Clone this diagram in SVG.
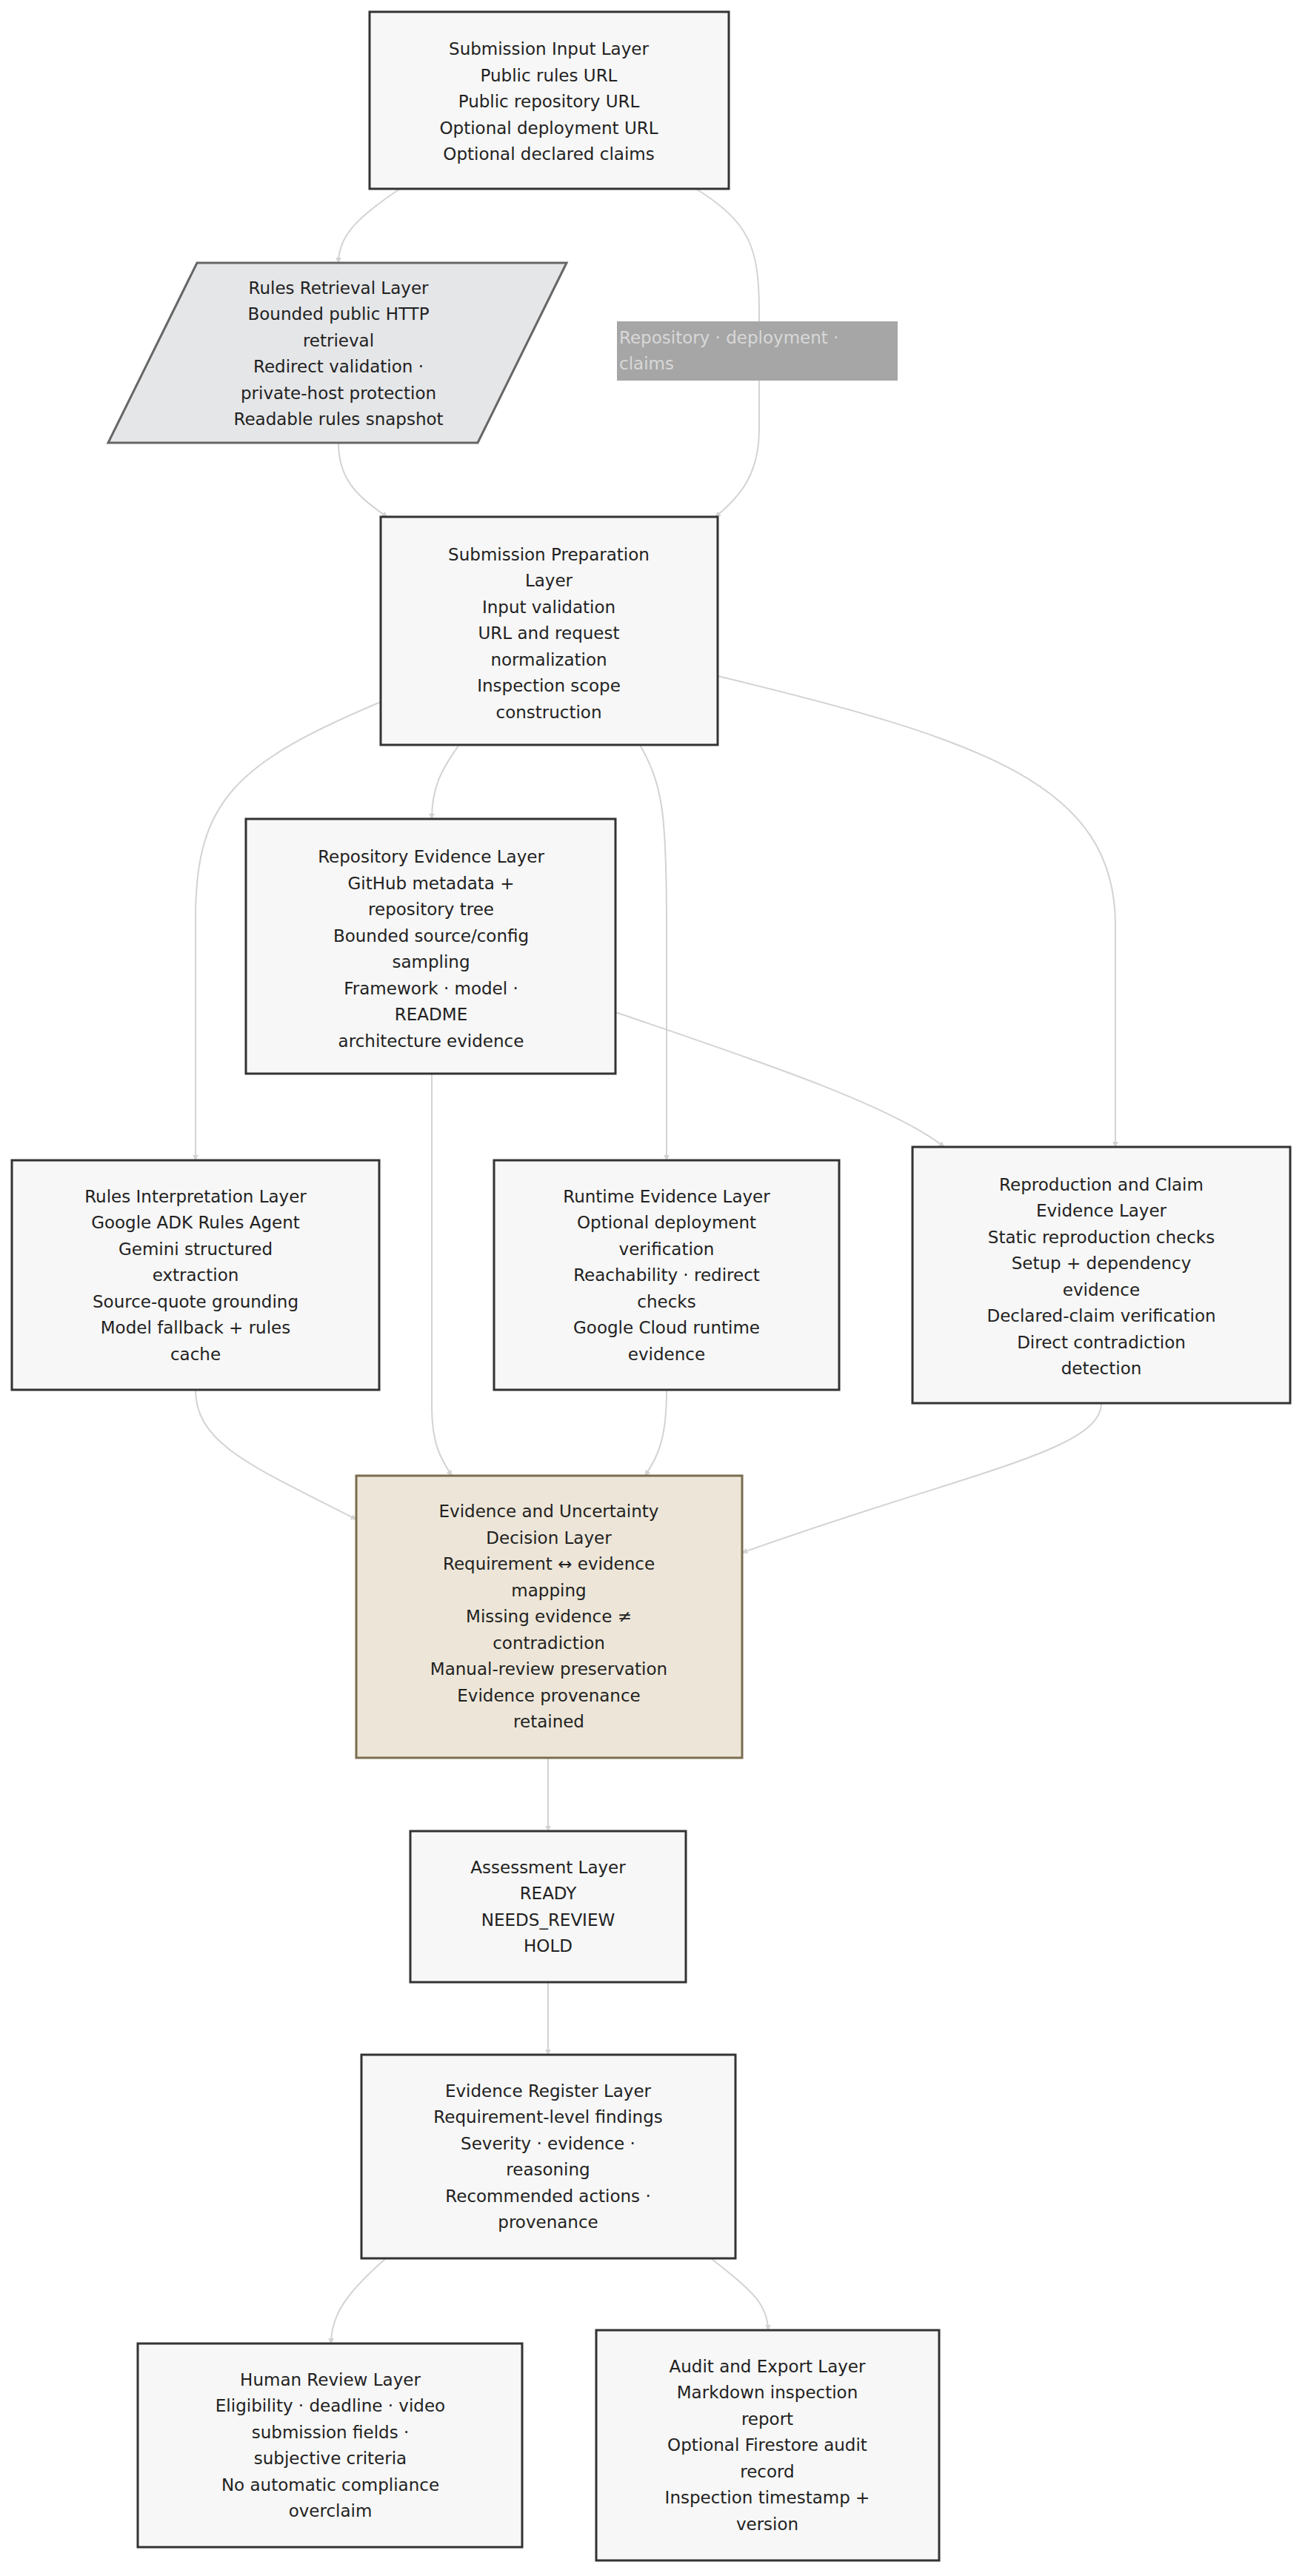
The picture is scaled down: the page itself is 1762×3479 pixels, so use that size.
<svg xmlns="http://www.w3.org/2000/svg" width="1762" height="3479" viewBox="0 0 1762 3479">
<style>
.n{fill:#f7f7f7;stroke:#333;stroke-width:3}
.t{font-family:"DejaVu Sans",sans-serif;font-size:23px;fill:#222;text-anchor:middle;dominant-baseline:central}
.e{fill:none;stroke:#d3d3d3;stroke-width:2}
.lt{font-family:"DejaVu Sans",sans-serif;font-size:23px;fill:#d8d8d8;dominant-baseline:central}
</style>
<defs><marker id="a" viewBox="0 0 10 10" refX="9" refY="5" markerWidth="8" markerHeight="8" markerUnits="userSpaceOnUse" orient="auto"><path d="M0,0L10,5L0,10z" fill="#d3d3d3"/></marker></defs>
<rect width="1762" height="3479" fill="#fff"/>
<g id="connectors">
<path class="e" marker-end="url(#a)" d="M540,255C480,295 457,320 457,355"/>
<path class="e" marker-end="url(#a)" d="M940,255C1010,300 1025,330 1025,420L1025,580C1025,640 1000,670 966,698"/>
<path class="e" marker-end="url(#a)" d="M457,598C457,645 480,670 523,698"/>
<path class="e" marker-end="url(#a)" d="M514,948C320,1030 264,1080 264,1240L264,1567"/>
<path class="e" marker-end="url(#a)" d="M620,1006C595,1040 583,1065 583,1106"/>
<path class="e" marker-end="url(#a)" d="M864,1006C895,1060 900,1100 900,1250L900,1567"/>
<path class="e" marker-end="url(#a)" d="M969,913C1330,1000 1506,1060 1506,1250L1506,1549"/>
<path class="e" marker-end="url(#a)" d="M831,1367C1000,1425 1200,1490 1275,1549"/>
<path class="e" marker-end="url(#a)" d="M583,1450L583,1900C583,1950 595,1970 610,1993"/>
<path class="e" marker-end="url(#a)" d="M264,1877C264,1950 340,1980 481,2052"/>
<path class="e" marker-end="url(#a)" d="M900,1877C900,1940 890,1965 871,1993"/>
<path class="e" marker-end="url(#a)" d="M1487,1895C1487,1960 1300,1990 1002,2097"/>
<path class="e" marker-end="url(#a)" d="M740,2374L740,2473"/>
<path class="e" marker-end="url(#a)" d="M740,2677L740,2775"/>
<path class="e" marker-end="url(#a)" d="M521,3050C470,3095 447,3125 447,3165"/>
<path class="e" marker-end="url(#a)" d="M960,3050C1010,3090 1037,3110 1037,3147"/>
<rect x="833" y="434" width="379" height="80" fill="#a6a6a6"/>
<text class="lt" x="836" y="456">Repository · deployment ·</text>
<text class="lt" x="836" y="491">claims</text>
</g>
<g id="input"><rect class="n" x="499" y="16" width="485" height="239"/>
<text class="t" x="741" y="66">Submission Input Layer</text><text class="t" x="741" y="102">Public rules URL</text><text class="t" x="741" y="137">Public repository URL</text><text class="t" x="741" y="173">Optional deployment URL</text><text class="t" x="741" y="208">Optional declared claims</text></g>
<g id="rules"><path d="M266,355L765,355L645,598L146,598Z" fill="#e5e6e8" stroke="#666" stroke-width="3"/>
<text class="t" x="457" y="389">Rules Retrieval Layer</text><text class="t" x="457" y="424">Bounded public HTTP</text><text class="t" x="457" y="460">retrieval</text><text class="t" x="457" y="495">Redirect validation ·</text><text class="t" x="457" y="531">private-host protection</text><text class="t" x="457" y="566">Readable rules snapshot</text></g>
<g id="prep"><rect class="n" x="514" y="698" width="455" height="308"/>
<text class="t" x="741" y="749">Submission Preparation</text><text class="t" x="741" y="784">Layer</text><text class="t" x="741" y="820">Input validation</text><text class="t" x="741" y="855">URL and request</text><text class="t" x="741" y="891">normalization</text><text class="t" x="741" y="926">Inspection scope</text><text class="t" x="741" y="962">construction</text></g>
<g id="repo"><rect class="n" x="332" y="1106" width="499" height="344"/>
<text class="t" x="582" y="1157">Repository Evidence Layer</text><text class="t" x="582" y="1193">GitHub metadata +</text><text class="t" x="582" y="1228">repository tree</text><text class="t" x="582" y="1264">Bounded source/config</text><text class="t" x="582" y="1299">sampling</text><text class="t" x="582" y="1335">Framework · model ·</text><text class="t" x="582" y="1370">README</text><text class="t" x="582" y="1406">architecture evidence</text></g>
<g id="interp"><rect class="n" x="16" y="1567" width="496" height="310"/>
<text class="t" x="264" y="1616">Rules Interpretation Layer</text><text class="t" x="264" y="1651">Google ADK Rules Agent</text><text class="t" x="264" y="1687">Gemini structured</text><text class="t" x="264" y="1722">extraction</text><text class="t" x="264" y="1758">Source-quote grounding</text><text class="t" x="264" y="1793">Model fallback + rules</text><text class="t" x="264" y="1829">cache</text></g>
<g id="runtime"><rect class="n" x="667" y="1567" width="466" height="310"/>
<text class="t" x="900" y="1616">Runtime Evidence Layer</text><text class="t" x="900" y="1651">Optional deployment</text><text class="t" x="900" y="1687">verification</text><text class="t" x="900" y="1722">Reachability · redirect</text><text class="t" x="900" y="1758">checks</text><text class="t" x="900" y="1793">Google Cloud runtime</text><text class="t" x="900" y="1829">evidence</text></g>
<g id="repro"><rect class="n" x="1232" y="1549" width="510" height="346"/>
<text class="t" x="1487" y="1600">Reproduction and Claim</text><text class="t" x="1487" y="1635">Evidence Layer</text><text class="t" x="1487" y="1671">Static reproduction checks</text><text class="t" x="1487" y="1706">Setup + dependency</text><text class="t" x="1487" y="1742">evidence</text><text class="t" x="1487" y="1777">Declared-claim verification</text><text class="t" x="1487" y="1813">Direct contradiction</text><text class="t" x="1487" y="1848">detection</text></g>
<g id="evidence"><rect x="481" y="1993" width="521" height="381" fill="#ede6d8" stroke="#7a6d4f" stroke-width="3"/>
<text class="t" x="741" y="2041">Evidence and Uncertainty</text><text class="t" x="741" y="2077">Decision Layer</text><text class="t" x="741" y="2112">Requirement ↔ evidence</text><text class="t" x="741" y="2148">mapping</text><text class="t" x="741" y="2183">Missing evidence ≠</text><text class="t" x="741" y="2219">contradiction</text><text class="t" x="741" y="2254">Manual-review preservation</text><text class="t" x="741" y="2290">Evidence provenance</text><text class="t" x="741" y="2325">retained</text></g>
<g id="assessment"><rect class="n" x="554" y="2473" width="372" height="204"/>
<text class="t" x="740" y="2522">Assessment Layer</text><text class="t" x="740" y="2557">READY</text><text class="t" x="740" y="2593">NEEDS_REVIEW</text><text class="t" x="740" y="2628">HOLD</text></g>
<g id="register"><rect class="n" x="488" y="2775" width="505" height="275"/>
<text class="t" x="740" y="2824">Evidence Register Layer</text><text class="t" x="740" y="2859">Requirement-level findings</text><text class="t" x="740" y="2895">Severity · evidence ·</text><text class="t" x="740" y="2930">reasoning</text><text class="t" x="740" y="2966">Recommended actions ·</text><text class="t" x="740" y="3001">provenance</text></g>
<g id="human"><rect class="n" x="186" y="3165" width="519" height="275"/>
<text class="t" x="446" y="3214">Human Review Layer</text><text class="t" x="446" y="3249">Eligibility · deadline · video</text><text class="t" x="446" y="3285">submission fields ·</text><text class="t" x="446" y="3320">subjective criteria</text><text class="t" x="446" y="3356">No automatic compliance</text><text class="t" x="446" y="3391">overclaim</text></g>
<g id="audit"><rect class="n" x="805" y="3147" width="463" height="311"/>
<text class="t" x="1036" y="3196">Audit and Export Layer</text><text class="t" x="1036" y="3231">Markdown inspection</text><text class="t" x="1036" y="3267">report</text><text class="t" x="1036" y="3302">Optional Firestore audit</text><text class="t" x="1036" y="3338">record</text><text class="t" x="1036" y="3373">Inspection timestamp +</text><text class="t" x="1036" y="3409">version</text></g>
</svg>
